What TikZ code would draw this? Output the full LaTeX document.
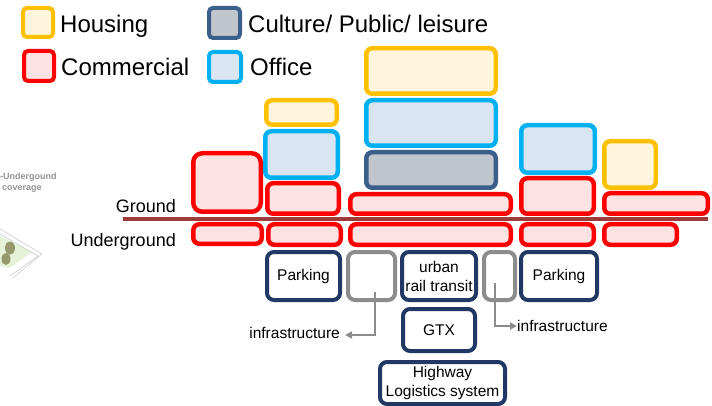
\documentclass[tikz,border=0pt]{standalone}
\usepackage{fontspec}
\setmainfont{Liberation Sans}
\usetikzlibrary{arrows.meta}
\definecolor{houseB}{HTML}{FFC000}
\definecolor{houseF}{HTML}{FFF5DC}
\definecolor{commB}{HTML}{FF0000}
\definecolor{commF}{HTML}{FFE2E2}
\definecolor{cultB}{HTML}{3A5F8B}
\definecolor{cultF}{HTML}{C1C5CC}
\definecolor{offB}{HTML}{00B0F0}
\definecolor{offF}{HTML}{DAE5F4}
\definecolor{navy}{HTML}{1F3864}
\definecolor{infraG}{HTML}{8C8C8C}
\definecolor{groundL}{HTML}{9E3A3A}
\tikzset{
  blk/.style={draw, line width=4.5pt, rounded corners=6pt, inner sep=0pt},
  house/.style={blk, draw=houseB, fill=houseF},
  comm/.style={blk, draw=commB, fill=commF},
  cult/.style={blk, draw=cultB, fill=cultF},
  office/.style={blk, draw=offB, fill=offF},
  swatch/.style={line width=4pt, rounded corners=4pt, inner sep=0pt},
  ubox/.style={draw=navy, fill=white, line width=4pt, rounded corners=7pt, inner sep=0pt,
    font=\fontsize{15.5}{19}\selectfont, align=center},
  gbox/.style={draw=infraG, fill=white, line width=4pt, rounded corners=7pt, inner sep=0pt},
  legtxt/.style={font=\fontsize{24}{28}\selectfont, anchor=base west, inner sep=0pt},
  lvltxt/.style={font=\fontsize{18}{21}\selectfont, anchor=base east, inner sep=0pt},
  inftxt/.style={font=\fontsize{15.5}{19}\selectfont, inner sep=0pt},
  arr/.style={draw=infraG, line width=2.5pt, -{Triangle[length=7pt,width=7pt]}},
  sz/.style 2 args={minimum width=#1pt, minimum height=#2pt}
}
\begin{document}
\begin{tikzpicture}[x=1pt,y=-1pt]
\useasboundingbox (0,0) rectangle (712,406);
\fill[white] (0,0) rectangle (712,406);

% faint site sketch at the left edge
\begin{scope}[opacity=0.6]
  \fill[green!35!olive!25] (0,236) -- (32,252) -- (10,268) -- (0,266) -- cycle;
  \draw[gray!60, line width=0.7pt] (0,229) -- (42,254) -- (13,278);
  \draw[gray!60, line width=0.7pt] (0,234) -- (38,256) -- (10,276);
  \fill[olive!60!black] (10,248) ellipse (5pt and 6.5pt);
  \fill[olive!60!black] (6,259) ellipse (4.5pt and 6pt);
  \node[font=\fontsize{9}{10}\selectfont\bfseries, text=black!70, anchor=west, inner sep=0pt]
    (skA) at (0,177) {-Undergound};
  \node[font=\fontsize{9}{10}\selectfont\bfseries, text=black!70, anchor=west, inner sep=0pt]
    (skB) at (2,189) {coverage};
\end{scope}

% legend
\node[swatch, draw=houseB, fill=houseF, sz={30}{29}] (lh) at (38,22.5) {};
\node[legtxt] (lht) at (60,33) {Housing};
\node[swatch, draw=commB, fill=commF, sz={30}{30}] (lc) at (39,66) {};
\node[legtxt] (lct) at (61,76) {Commercial};
\node[swatch, draw=cultB, fill=cultF, sz={31}{30}] (lu) at (224.5,23) {};
\node[legtxt] (lut) at (248,33) {Culture/ Public/ leisure};
\node[swatch, draw=offB, fill=offF, sz={32}{30}] (lo) at (225,67) {};
\node[legtxt] (lot) at (250,76) {Office};

% ground line and level labels
\coordinate (gl0) at (123,219.5);
\coordinate (gl1) at (708,219.5);
\draw[groundL, line width=4pt] (gl0) -- (gl1);
\node[lvltxt] (gnd) at (176,212) {Ground};
\node[lvltxt] (ugd) at (176,246) {Underground};

% column 1
\node[comm, sz={67.5}{58.5}, rounded corners=9pt] (c1) at (227,182.5) {};
\node[comm, sz={68.5}{19.5}] (u1) at (227.5,234) {};
% column 2
\node[house, sz={70.5}{24.5}] (h2) at (301.5,112.5) {};
\node[office, sz={72.5}{46.5}] (o2) at (301.5,154.5) {};
\node[comm, sz={71.5}{30.5}] (c2) at (303,198.5) {};
\node[comm, sz={72.5}{20.5}] (u2) at (304.5,234.5) {};
% column 3
\node[house, sz={129.5}{45.5}] (h3) at (431,71) {};
\node[office, sz={129.5}{45.5}] (o3) at (431,123) {};
\node[cult, sz={129.5}{35.5}] (p3) at (431,170) {};
\node[comm, sz={160.5}{19.5}] (c3) at (430.5,204) {};
\node[comm, sz={160.5}{20.5}] (u3) at (430.5,234.5) {};
% column 4
\node[office, sz={73.5}{47.5}] (o4) at (558,149) {};
\node[comm, sz={72.5}{35.5}] (c4) at (557.5,196) {};
\node[comm, sz={72.5}{20.5}] (u4) at (557.5,234.5) {};
% column 5
\node[house, sz={51.5}{46.5}] (h5) at (630,164.5) {};
\node[comm, sz={103.5}{20.5}] (c5) at (656,203.5) {};
\node[comm, sz={72.5}{20.5}] (u5) at (640.5,234.5) {};

% underground infrastructure
\node[ubox, sz={73}{48}] (pk1) at (303.5,276) {Parking};
\node[gbox, sz={47}{48}] (g1) at (371.5,276) {};
\node[ubox, sz={74}{48}] (rail) at (439,276) {urban\\rail transit};
\node[gbox, sz={31}{48}] (g2) at (499.5,276) {};
\node[ubox, sz={76}{48}] (pk2) at (559,276) {Parking};
\node[ubox, sz={72}{42}] (gtx) at (439,330) {GTX};
\node[ubox, sz={125}{42}] (hwy) at (442.5,383)
  {\raisebox{-3pt}{\begin{tabular}{@{}c@{}}Highway\\Logistics system\end{tabular}}};

% infrastructure callouts
\node[inftxt, anchor=base east] (infL) at (340,338) {infrastructure};
\node[inftxt, anchor=base west] (infR) at (517,331) {infrastructure};
\coordinate (sL) at (375,292);
\coordinate (eL) at (345,335);
\coordinate (sR) at (495,283);
\coordinate (eR) at (517,326);
\draw[arr] (sL) |- (eL);
\draw[arr] (sR) |- (eR);
\end{tikzpicture}
\end{document}
